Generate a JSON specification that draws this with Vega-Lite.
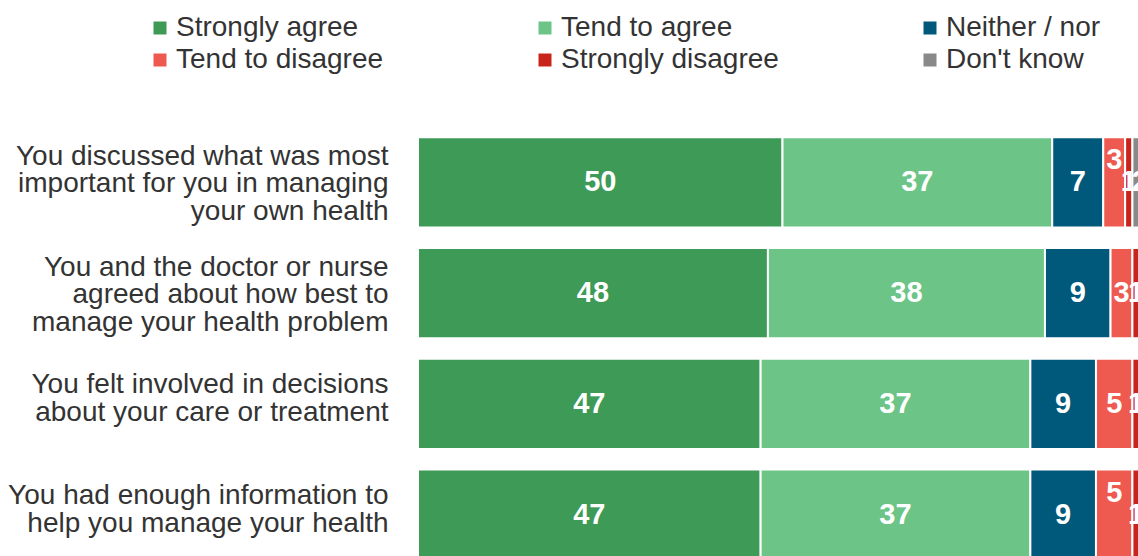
{
  "$schema": "https://vega.github.io/schema/vega-lite/v6.json",
  "width": 720,
  "height": 429,
  "autosize": {"type": "none"},
  "padding": {"left": 418, "top": 127, "right": 0, "bottom": 0},
  "background": "white",
  "config": {"view": {"stroke": null}, "font": "Liberation Sans"},
  "data": {
    "values": [
      {"question": "You discussed what was most\nimportant for you in managing\nyour own health", "category": "Strongly agree", "k": 1, "value": 50},
      {"question": "You discussed what was most\nimportant for you in managing\nyour own health", "category": "Tend to agree", "k": 2, "value": 37},
      {"question": "You discussed what was most\nimportant for you in managing\nyour own health", "category": "Neither / nor", "k": 3, "value": 7},
      {"question": "You discussed what was most\nimportant for you in managing\nyour own health", "category": "Tend to disagree", "k": 4, "value": 3},
      {"question": "You discussed what was most\nimportant for you in managing\nyour own health", "category": "Strongly disagree", "k": 5, "value": 1},
      {"question": "You discussed what was most\nimportant for you in managing\nyour own health", "category": "Don't know", "k": 6, "value": 2},
      {"question": "You and the doctor or nurse\nagreed about how best to\nmanage your health problem", "category": "Strongly agree", "k": 1, "value": 48},
      {"question": "You and the doctor or nurse\nagreed about how best to\nmanage your health problem", "category": "Tend to agree", "k": 2, "value": 38},
      {"question": "You and the doctor or nurse\nagreed about how best to\nmanage your health problem", "category": "Neither / nor", "k": 3, "value": 9},
      {"question": "You and the doctor or nurse\nagreed about how best to\nmanage your health problem", "category": "Tend to disagree", "k": 4, "value": 3},
      {"question": "You and the doctor or nurse\nagreed about how best to\nmanage your health problem", "category": "Strongly disagree", "k": 5, "value": 1},
      {"question": "You and the doctor or nurse\nagreed about how best to\nmanage your health problem", "category": "Don't know", "k": 6, "value": 1},
      {"question": "You felt involved in decisions\nabout your care or treatment", "category": "Strongly agree", "k": 1, "value": 47},
      {"question": "You felt involved in decisions\nabout your care or treatment", "category": "Tend to agree", "k": 2, "value": 37},
      {"question": "You felt involved in decisions\nabout your care or treatment", "category": "Neither / nor", "k": 3, "value": 9},
      {"question": "You felt involved in decisions\nabout your care or treatment", "category": "Tend to disagree", "k": 4, "value": 5},
      {"question": "You felt involved in decisions\nabout your care or treatment", "category": "Strongly disagree", "k": 5, "value": 1},
      {"question": "You felt involved in decisions\nabout your care or treatment", "category": "Don't know", "k": 6, "value": 1},
      {"question": "You had enough information to\nhelp you manage your health", "category": "Strongly agree", "k": 1, "value": 47},
      {"question": "You had enough information to\nhelp you manage your health", "category": "Tend to agree", "k": 2, "value": 37},
      {"question": "You had enough information to\nhelp you manage your health", "category": "Neither / nor", "k": 3, "value": 9},
      {"question": "You had enough information to\nhelp you manage your health", "category": "Tend to disagree", "k": 4, "value": 5},
      {"question": "You had enough information to\nhelp you manage your health", "category": "Strongly disagree", "k": 5, "value": 1},
      {"question": "You had enough information to\nhelp you manage your health", "category": "Don't know", "k": 6, "value": 1}
    ]
  },
  "encoding": {
    "y": {
      "field": "question",
      "type": "nominal",
      "sort": null,
      "scale": {"range": [0, 443], "paddingInner": 0.183, "paddingOuter": 0.0915},
      "axis": {
        "title": null,
        "domain": false,
        "ticks": false,
        "labelPadding": 30,
        "labelFontSize": 28,
        "labelLineHeight": 27.5,
        "labelColor": "#333333",
        "labelLimit": 600,
        "labelFont": "Liberation Sans",
        "labelExpr": "split(datum.label, '\\n')",
        "labelOffset": {"expr": "length(split(datum.value, '\\n')) >= 3 ? -25.5 : -18.5"}
      }
    }
  },
  "layer": [
    {
      "mark": {"type": "bar", "stroke": "white", "strokeWidth": 2, "clip": true},
      "encoding": {
        "x": {"field": "value", "type": "quantitative", "stack": "zero", "scale": {"domain": [0, 100], "range": [0, 729]}, "axis": null},
        "color": {
          "field": "category",
          "type": "nominal",
          "sort": ["Strongly agree", "Tend to agree", "Neither / nor", "Tend to disagree", "Strongly disagree", "Don't know"],
          "scale": {
            "domain": ["Strongly agree", "Tend to agree", "Neither / nor", "Tend to disagree", "Strongly disagree", "Don't know"],
            "range": ["#3d9a57", "#6cc587", "#00587a", "#ee5a4f", "#c8241c", "#898989"]
          },
          "legend": {
            "orient": "none",
            "direction": "horizontal",
            "legendX": -272,
            "legendY": -113,
            "columns": 3,
            "title": null,
            "symbolType": "square",
            "symbolSize": 169,
            "symbolStrokeWidth": 0,
            "labelFontSize": 28,
            "labelFont": "Liberation Sans",
            "labelColor": "#333333",
            "labelOffset": 2,
            "labelLimit": 500,
            "gridAlign": "all",
            "columnPadding": 137,
            "rowPadding": 4
          }
        },
        "order": {"field": "k", "type": "quantitative"}
      }
    },
    {
      "mark": {"type": "text", "color": "white", "fontSize": 29, "fontWeight": "bold", "font": "Liberation Sans", "baseline": "middle", "align": "center", "clip": true},
      "encoding": {
        "x": {"field": "value", "type": "quantitative", "stack": "zero", "bandPosition": 0.5},
        "detail": {"field": "category", "type": "nominal"},
        "order": {"field": "k", "type": "quantitative"},
        "text": {
          "condition": {"test": "!(datum.category === 'Tend to disagree' && (indexof(datum.question, 'discussed') >= 0 || indexof(datum.question, 'enough') >= 0))", "field": "value", "type": "quantitative"},
          "value": ""
        }
      }
    },
    {
      "mark": {"type": "text", "color": "white", "fontSize": 29, "fontWeight": "bold", "font": "Liberation Sans", "baseline": "middle", "align": "center", "dy": -22, "clip": true},
      "encoding": {
        "x": {"field": "value", "type": "quantitative", "stack": "zero", "bandPosition": 0.5},
        "detail": {"field": "category", "type": "nominal"},
        "order": {"field": "k", "type": "quantitative"},
        "text": {
          "condition": {"test": "datum.category === 'Tend to disagree' && (indexof(datum.question, 'discussed') >= 0 || indexof(datum.question, 'enough') >= 0)", "field": "value", "type": "quantitative"},
          "value": ""
        }
      }
    }
  ]
}
